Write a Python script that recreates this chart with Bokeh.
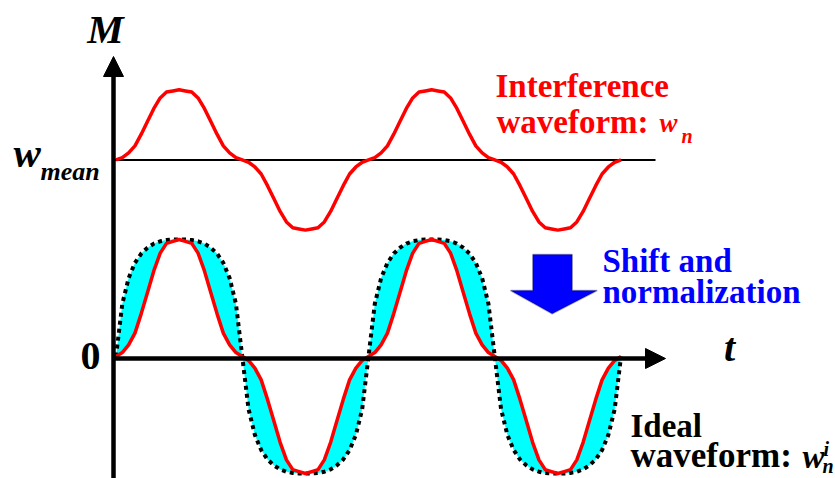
from bokeh.plotting import figure
from bokeh.models import Label, Arrow, NormalHead, PolyAnnotation, ColumnDataSource
from bokeh.embed import file_html
from bokeh.resources import INLINE

# ---------------- data ----------------
# time axis: 2 periods, 40 samples per period
t = [i / 40 for i in range(81)]

w_mean = 1.68      # mean level of the interference waveform
w_amp = 0.60       # half peak-to-peak of the interference waveform

# interference waveform w_n (upper red curve)
interference = [
    1.68, 1.70, 1.74, 1.80, 1.90, 2.01, 2.12, 2.21, 2.26, 2.27, 2.28, 2.27, 2.26, 2.21, 2.12, 2.01, 1.90, 1.80, 1.74, 1.70, 1.68,
    1.66, 1.62, 1.56, 1.46, 1.35, 1.24, 1.15, 1.10, 1.09, 1.08, 1.09, 1.10, 1.15, 1.24, 1.35, 1.46, 1.56, 1.62, 1.66, 1.68,
    1.70, 1.74, 1.80, 1.90, 2.01, 2.12, 2.21, 2.26, 2.27, 2.28, 2.27, 2.26, 2.21, 2.12, 2.01, 1.90, 1.80, 1.74, 1.70, 1.68,
    1.66, 1.62, 1.56, 1.46, 1.35, 1.24, 1.15, 1.10, 1.09, 1.08, 1.09, 1.10, 1.15, 1.24, 1.35, 1.46, 1.56, 1.62, 1.66, 1.68,
]

# ideal waveform w^i_n (black dotted curve)
ideal = [
    0, 0.45, 0.67, 0.80, 0.88, 0.93, 0.965, 0.985, 0.995, 1.0, 1.0, 1.0, 0.995, 0.985, 0.965, 0.93, 0.88, 0.80, 0.67, 0.45, 0,
    -0.45, -0.67, -0.80, -0.88, -0.93, -0.965, -0.985, -0.995, -1.0, -1.0, -1.0, -0.995, -0.985, -0.965, -0.93, -0.88, -0.80, -0.67, -0.45, 0,
    0.45, 0.67, 0.80, 0.88, 0.93, 0.965, 0.985, 0.995, 1.0, 1.0, 1.0, 0.995, 0.985, 0.965, 0.93, 0.88, 0.80, 0.67, 0.45, 0,
    -0.45, -0.67, -0.80, -0.88, -0.93, -0.965, -0.985, -0.995, -1.0, -1.0, -1.0, -0.995, -0.985, -0.965, -0.93, -0.88, -0.80, -0.67, -0.45, 0,
]

# shifted and normalized interference waveform (lower red curve)
normalized = [(v - w_mean) / w_amp for v in interference]

src = ColumnDataSource(dict(t=t, interference=interference, ideal=ideal, normalized=normalized))

# ---------------- layout ----------------
W, H = 835, 478
PX_T = 252.5      # pixels per period
PX_M = 117.0      # pixels per unit of M
T0_X = 115.5      # page x of t = 0
M0_Y = 356.0      # page y of M = 0


def px_x(X):
    return (X - T0_X) / PX_T


def px_y(Y):
    return (M0_Y - Y) / PX_M


p = figure(width=W, height=H,
           x_range=(px_x(0), px_x(W)), y_range=(px_y(H), px_y(0)),
           output_backend="svg", toolbar_location=None,
           x_axis_location=None, y_axis_location=None, min_border=0)
p.grid.visible = False
p.outline_line_color = None
p.background_fill_color = "white"
p.border_fill_color = "white"

FONT = "Liberation Serif"

axis_t = px_x(113)
axis_m = px_y(358)

# mean line
p.segment(x0=[axis_t], y0=[w_mean], x1=[px_x(655)], y1=[w_mean], line_color="black", line_width=2)

# filled gap between ideal and normalized
p.varea(x="t", y1="normalized", y2="ideal", source=src, fill_color="#00ffff")

# ideal dotted
p.line(x="t", y="ideal", source=src, line_color="black", line_width=4, line_dash="4 4")

# red curves
p.line(x="t", y="interference", source=src, line_color="#ff0000", line_width=3.5)
p.line(x="t", y="normalized", source=src, line_color="#ff0000", line_width=3.5)

# axes with arrows
p.add_layout(Arrow(x_start=axis_t, y_start=px_y(480), x_end=axis_t, y_end=px_y(56),
                   line_width=4.5, line_color="black",
                   end=NormalHead(size=20, fill_color="black", line_color="black", line_width=1)))
p.add_layout(Arrow(x_start=axis_t, y_start=axis_m, x_end=px_x(665), y_end=axis_m,
                   line_width=4.5, line_color="black",
                   end=NormalHead(size=20, fill_color="black", line_color="black", line_width=1)))

# blue block arrow
arrow_pts = [(532.3, 254), (571.7, 254), (571.7, 290), (596.7, 290), (551.7, 313.3), (510, 290), (532.3, 290)]
p.add_layout(PolyAnnotation(xs=[px_x(a) for a, b in arrow_pts], ys=[px_y(b) for a, b in arrow_pts],
                            fill_color="#0000ff", fill_alpha=1.0, line_color="#000022", line_width=1.5))


def lab(X, Y, text, size, style="bold", color="black", align="left"):
    # Y is the wanted page baseline; compensate the renderer's baseline offset
    y_eff = Y - 0.36 * size
    p.add_layout(Label(x=px_x(X), y=px_y(y_eff), text=text, text_font=FONT, text_font_size=f"{size}px",
                       text_font_style=style, text_color=color, text_align=align,
                       text_baseline="alphabetic"))


# axis labels
lab(105, 43, "M", 41, "bold italic", align="center")
lab(13, 167, "w", 41, "bold italic")
lab(40, 180, "mean", 26, "bold italic")
lab(90, 370, "0", 40, "bold", align="center")
lab(729, 361, "t", 40, "bold italic", align="center")

# interference text
RED = "#ff0000"
lab(495, 97, "Interference", 33, color=RED)
lab(496, 133, "waveform:", 33, color=RED)
lab(659, 132, "w", 27, "bold italic", color=RED)
lab(681, 143, "n", 20, "bold italic", color=RED)

# shift text
BLUE = "#0000ff"
lab(602, 272, "Shift and", 33, color=BLUE)
lab(602, 303.5, "normalization", 33, color=BLUE)

# ideal text
lab(630, 437, "Ideal", 33)
lab(630, 468, "waveform:", 35)
lab(802, 468, "w", 33, "bold italic")
lab(823, 456, "i", 20, "bold italic")
lab(822, 473, "n", 20, "bold italic")

open("out.html", "w").write(file_html(p, INLINE))
